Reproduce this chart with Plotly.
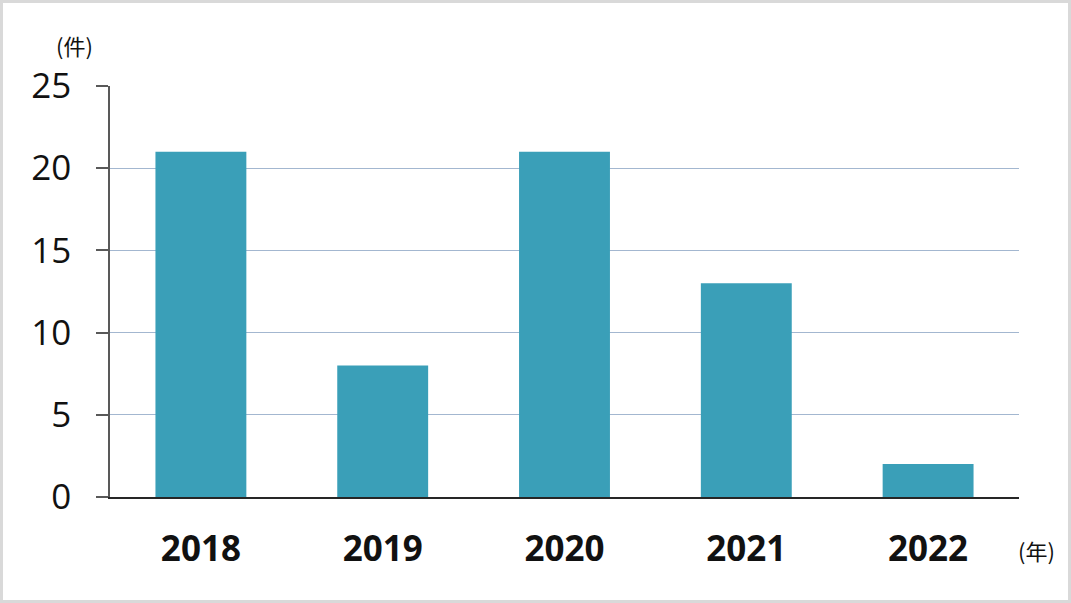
import plotly.graph_objects as go

years = ["2018", "2019", "2020", "2021", "2022"]
counts = [21, 8, 21, 13, 2]
y_ticks = [0, 5, 10, 15, 20, 25]

W, H = 1071, 603
L, R, T, B = 110, 52, 86, 106
pw, ph = W - L - R, H - T - B

fig = go.Figure(go.Bar(x=years, y=counts, marker=dict(color="#3a9fb8", line=dict(width=0)), width=0.5))

def px_x(p):
    return (p - L) / pw

def px_y(p):
    return (H - B - p) / ph

fig.update_layout(
    width=W, height=H,
    margin=dict(l=L, r=R, t=T, b=B),
    paper_bgcolor="white", plot_bgcolor="white",
    showlegend=False,
    font=dict(family="Open Sans, Noto Sans CJK JP", color="#111111"),
    xaxis=dict(
        showgrid=False, showline=True, linecolor="#262626", linewidth=2,
        tickfont=dict(size=35, family="Open Sans", color="#111111", weight="bold"),
        ticks="", ticklabelstandoff=20,
    ),
    yaxis=dict(
        range=[0, 25], tickvals=y_ticks, showgrid=True, gridcolor="#a3b7d0", gridwidth=1,
        showline=True, linecolor="#595959", linewidth=1.5,
        ticks="outside", ticklen=12, tickcolor="#595959", tickwidth=1.5,
        tickfont=dict(size=35, family="Open Sans", color="#111111"),
        ticklabelstandoff=18, zeroline=False,
    ),
    annotations=[
        dict(text="(件)", xref="paper", yref="paper", x=px_x(74), y=px_y(45), showarrow=False,
             font=dict(size=22, family="Noto Sans CJK JP", color="#111111"), xanchor="center", yanchor="middle"),
        dict(text="(年)", xref="paper", yref="paper", x=px_x(1036), y=px_y(550), showarrow=False,
             font=dict(size=22, family="Noto Sans CJK JP", color="#111111"), xanchor="center", yanchor="middle"),
    ],
    shapes=[
        dict(type="rect", xref="paper", yref="paper",
             x0=px_x(1.5), x1=px_x(W - 1.5), y0=px_y(H - 1.5), y1=px_y(1.5),
             line=dict(color="#d9d9d9", width=3), layer="below"),
    ],
)

fig.write_html("out.html", config={"displayModeBar": False},
               post_script="document.body.style.margin='0';")
